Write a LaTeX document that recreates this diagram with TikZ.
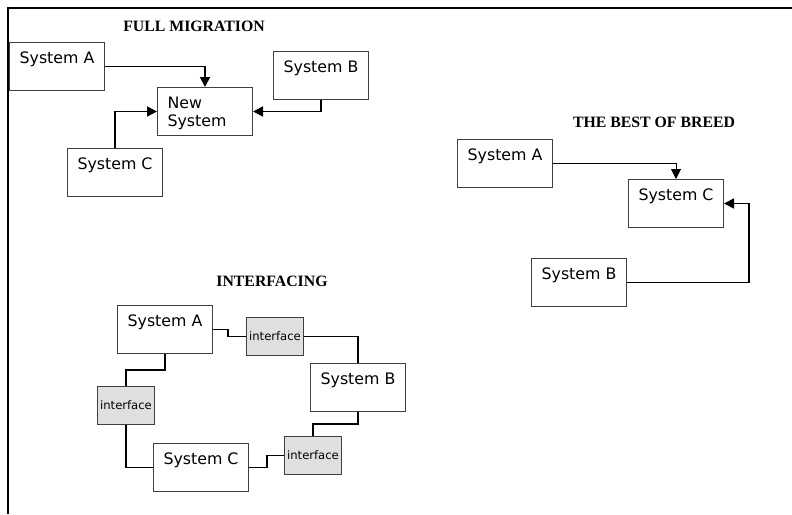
\documentclass[tikz,border=0pt]{standalone}
\usepackage{fontspec}
\setmainfont{Liberation Serif}
\newfontfamily\verdana{DejaVu Sans}
\usepackage{tikz}
\usetikzlibrary{shapes, arrows.meta, positioning}
\newcommand{\caja}[2][\centering]{\parbox[c][48pt][t]{95pt}{#1\vspace*{9pt}#2}}
\tikzstyle{titulo} = [font=\bfseries\fontsize{15.8}{18}\selectfont, inner sep=0pt]
\tikzstyle{sistema} = [draw=black!75, line width=1pt, rectangle, inner sep=0pt, anchor=north west, font=\verdana\fontsize{15.8}{18.5}\selectfont]
\tikzstyle{interfaz} = [draw=black!75, fill=gray!25, line width=1pt, rectangle, inner sep=1pt, anchor=north west, minimum width=57pt, minimum height=38pt, font=\verdana\fontsize{11.6}{13}\selectfont]
\tikzstyle{flecha} = [line width=1.7pt, -{Triangle[length=10pt,width=10pt]}]
\tikzstyle{flechafina} = [line width=1pt, -{Triangle[length=10pt,width=10pt]}]
\tikzstyle{enlace} = [line width=1.2pt]

\begin{document}
\begin{tikzpicture}[x=1pt, y=-1pt]
	\useasboundingbox (0,0) rectangle (792,514);
	\draw[line width=1.8pt] (792,8) -- (8,8) -- (8,514);

	% full migration
	\node[titulo] (tFull) at (194,26) {FULL MIGRATION};
	\node[sistema] (fmA) at (9,42) {\caja{System A}};
	\node[sistema] (fmN) at (157,87) {\caja[\raggedright\leftskip=10pt]{New\\System}};
	\node[sistema] (fmB) at (273,51) {\caja{System B}};
	\node[sistema] (fmC) at (67,148) {\caja{System C}};
	\draw[flecha] (fmA.east) -| (fmN.north);
	\draw[flecha] (fmB.south) |- (fmN.east);
	\draw[flecha] (fmC.north) |- (fmN.west);

	% best of breed
	\node[titulo] (tBest) at (654,122) {THE BEST OF BREED};
	\node[sistema] (bbA) at (457,139) {\caja{System A}};
	\node[sistema] (bbC) at (628,179) {\caja{System C}};
	\node[sistema] (bbB) at (531,258) {\caja{System B}};
	\draw[flechafina] (bbA.east) -| (bbC.north);
	\draw[flecha] (bbB.east) -| ([xshift=25pt]bbC.east) -- (bbC.east);

	% interfacing
	\node[titulo] (tInter) at (272,281) {INTERFACING};
	\node[sistema] (ifA) at (117,305) {\caja{System A}};
	\node[sistema] (ifB) at (310,363) {\caja{System B}};
	\node[sistema] (ifC) at (153,443) {\caja{System C}};
	\node[interfaz] (ifAB) at (246,317) {interface};
	\node[interfaz] (ifAC) at (97,386) {interface};
	\node[interfaz] (ifBC) at (284,436) {interface};
	\draw[enlace] (ifA.east) -- ++(15,0) |- (ifAB.west);
	\draw[enlace] (ifAB.east) -| (ifB.north);
	\draw[enlace] (ifA.south) -- ++(0,16) -| (ifAC.north);
	\draw[enlace] (ifAC.south) |- (ifC.west);
	\draw[enlace] (ifB.south) -- ++(0,12) -| (ifBC.north);
	\draw[enlace] (ifC.east) -- ++(18,0) |- (ifBC.west);
\end{tikzpicture}
\end{document}
